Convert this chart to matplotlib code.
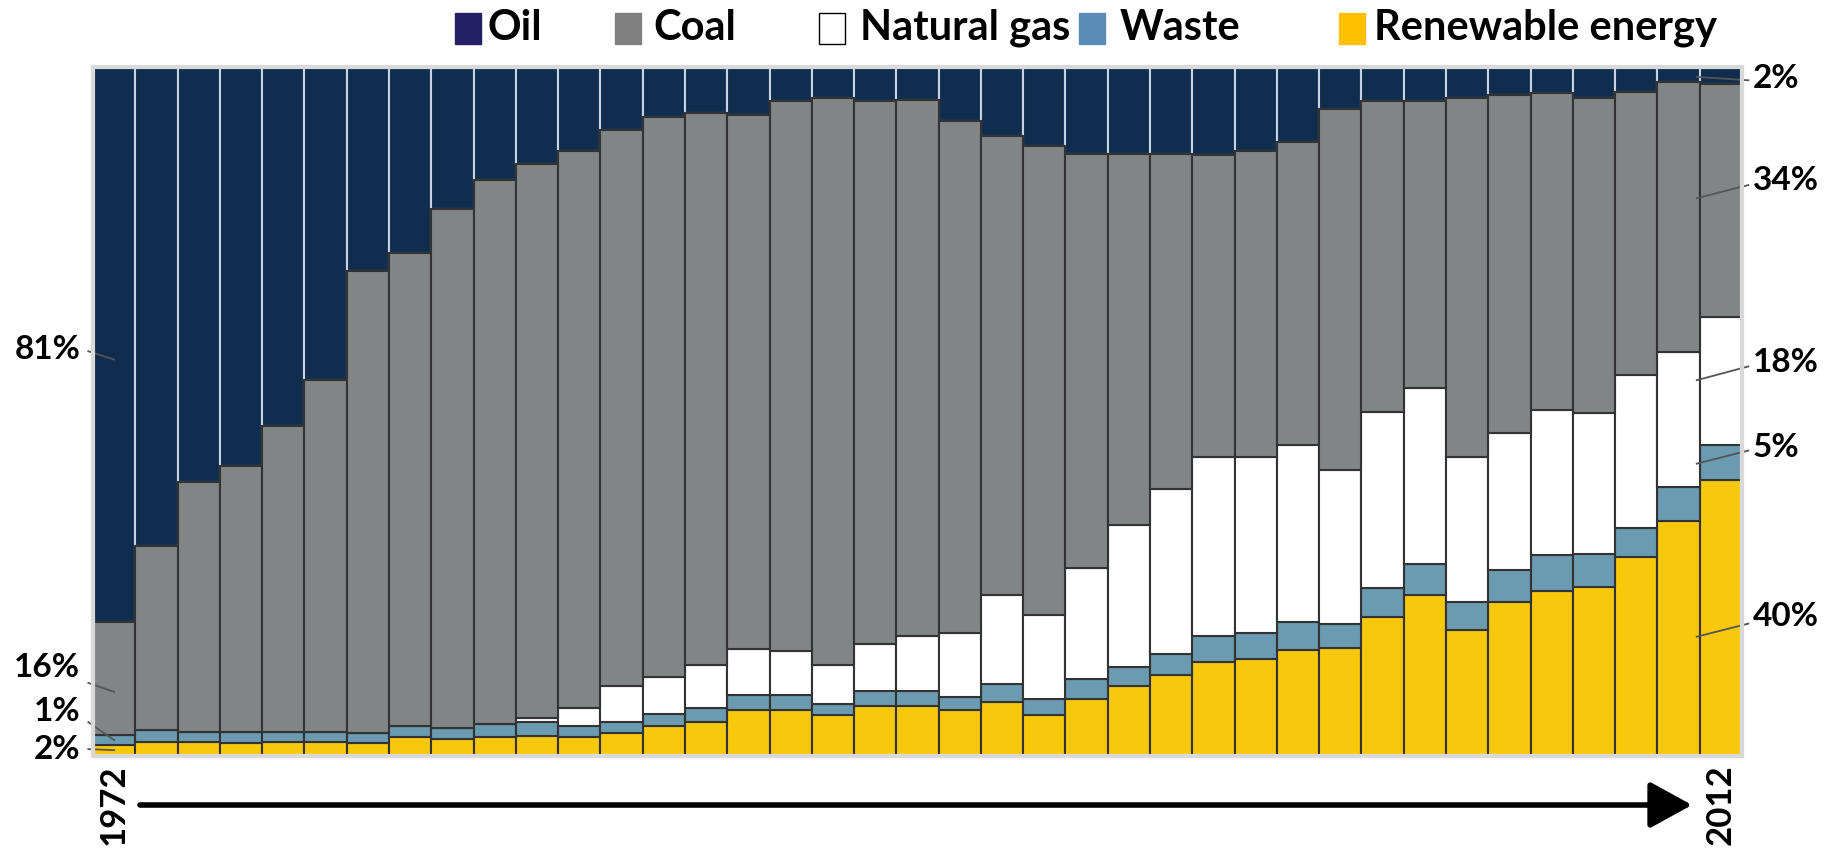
import numpy as np
import matplotlib.pyplot as plt
from matplotlib.patches import Rectangle

# shares in % per bar (1972 ... 2012)
renewable = [1.6, 2.1, 2.1, 1.9, 2.1, 2.1, 1.9, 2.7, 2.4, 2.7,
             2.9, 2.7, 3.3, 4.4, 5.0, 6.7, 6.7, 5.9, 7.2, 7.2,
             6.7, 7.8, 6.0, 8.3, 10.1, 11.8, 13.7, 14.0, 15.4, 15.7,
             20.2, 23.3, 18.3, 22.4, 23.9, 24.5, 28.8, 34.1, 40.0]
waste = [1.4, 1.7, 1.4, 1.6, 1.4, 1.4, 1.4, 1.7, 1.7, 1.9,
         2.0, 1.7, 1.7, 1.7, 2.0, 2.2, 2.1, 1.6, 2.2, 2.2,
         1.9, 2.6, 2.3, 2.9, 2.8, 3.0, 3.7, 3.8, 4.0, 3.4,
         4.2, 4.6, 4.0, 4.6, 5.2, 4.8, 4.2, 4.9, 5.1]
natural_gas = [0.0, 0.0, 0.0, 0.0, 0.0, 0.0, 0.0, 0.0, 0.0, 0.0,
               0.6, 2.5, 5.1, 5.3, 6.2, 6.6, 6.4, 5.7, 6.9, 8.0,
               9.3, 12.9, 12.2, 16.1, 20.6, 23.9, 26.0, 25.6, 25.7, 22.4,
               25.5, 25.4, 21.1, 19.8, 21.1, 20.4, 22.2, 19.6, 18.5]
coal = [16.4, 26.6, 36.2, 38.6, 44.3, 51.1, 67.1, 68.5, 75.3, 79.0,
        80.4, 80.9, 80.7, 81.3, 80.1, 77.5, 79.8, 82.3, 78.7, 77.8,
        74.2, 66.6, 68.0, 60.0, 53.8, 48.6, 43.7, 44.4, 43.9, 52.3,
        45.1, 41.7, 52.1, 49.1, 46.0, 45.8, 41.1, 39.1, 33.8]
oil = [80.6, 69.6, 60.3, 57.9, 52.2, 45.4, 29.6, 27.1, 20.6, 16.4,
       14.1, 12.2, 9.2, 7.3, 6.7, 7.0, 5.0, 4.5, 5.0, 4.8,
       7.9, 10.1, 11.5, 12.7, 12.7, 12.7, 12.9, 12.2, 11.0, 6.2,
       5.0, 5.0, 4.5, 4.1, 3.8, 4.5, 3.7, 2.3, 2.6]

end_years = ['1972', '2012']
left_labels = ['81%', '16%', '1%', '2%']
right_labels = ['2%', '34%', '18%', '5%', '40%']
legend_names = ['Oil', 'Coal', 'Natural gas', 'Waste', 'Renewable energy']
legend_colors = ['#231f63', '#808080', 'white', '#5b8cb8', '#ffc000']

plt.rcParams['font.family'] = ['Lato', 'DejaVu Sans']
plt.rcParams['font.weight'] = 'bold'

W, H = 1829, 848
fig = plt.figure(figsize=(W / 100, H / 100), dpi=100)
ax = fig.add_axes([93 / W, 1 - 756 / H, (1742 - 93) / W, (756 - 66.5) / H])

x = np.arange(len(coal))
r = np.array(renewable)
w = np.array(waste)
g = np.array(natural_gas)
c = np.array(coal)
o = np.array(oil)

edge = '#333333'
# oil first so the dark edges of the coal bars stay on top
ax.bar(x, o, bottom=r + w + g + c, width=1.0, color='#102c4e', edgecolor='#c9d3de', linewidth=1.5)
ax.bar(x, r, width=1.0, color='#f8c80d', edgecolor=edge, linewidth=1.5)
ax.bar(x, w, bottom=r, width=1.0, color='#6a9bb1', edgecolor=edge, linewidth=1.5)
ax.bar(x, g, bottom=r + w, width=1.0, color='white', edgecolor=edge, linewidth=1.5)
ax.bar(x, c, bottom=r + w + g, width=1.0, color='#828586', edgecolor=edge, linewidth=1.5)

ax.set_xlim(-0.5, len(coal) - 0.5)
ax.set_ylim(0, 100)
ax.set_yticks([])
ax.set_xticks([x[0], x[-1]])
ax.set_xticklabels(end_years, rotation=90, fontsize=25, fontweight='bold', va='top')
ax.tick_params(axis='x', length=0, pad=6)
for s in ax.spines.values():
    s.set_color('#d9d9d9')
    s.set_linewidth(3)

# left side call-outs (1972)
left_y = [59.0, 12.9, 6.4, 0.9]
left_lines = [(58.7, 57.5), (10.6, 9.3), (4.9, 2.3), (1.0, 0.85)]
for lab, ty, (y1, y2) in zip(left_labels, left_y, left_lines):
    ax.text(-0.8, ty, lab, ha='right', va='center', fontsize=24, fontweight='bold')
    ax.plot([-0.61, 0.0], [y1, y2], color='#555555', lw=1.3, clip_on=False)

# right side call-outs (2012)
n = len(coal) - 1
right_y = [98.3, 83.4, 57.1, 44.7, 20.3]
right_lines = [(98.5, 98.0), (80.9, 82.8), (54.5, 56.5), (42.4, 44.3), (17.3, 19.2)]
for lab, ty, (y1, y2) in zip(right_labels, right_y, right_lines):
    ax.text(n + 0.75, ty, lab, ha='left', va='center', fontsize=24, fontweight='bold')
    ax.plot([n - 0.57, n + 0.65], [y1, y2], color='#555555', lw=1.3, clip_on=False)

# time arrow under the bars
ax.annotate('', xy=(1692 / W, 1 - 805 / H), xytext=(140 / W, 1 - 805 / H),
            xycoords='figure fraction', textcoords='figure fraction',
            arrowprops=dict(arrowstyle='-|>,head_length=1.0,head_width=0.55',
                            color='black', lw=4, mutation_scale=26,
                            shrinkA=0, shrinkB=0))

# legend row, placed by hand like in the original
swatch_x = [455, 615, 819, 1079, 1339]
text_x = [488, 653, 860, 1120, 1374]
for sx, tx, name, col in zip(swatch_x, text_x, legend_names, legend_colors):
    fig.add_artist(Rectangle((sx / W, 1 - 44 / H), 26 / W, 31 / H, transform=fig.transFigure,
                             facecolor=col, edgecolor='black' if col == 'white' else col, lw=1))
    fig.text(tx / W, 1 - 28 / H, name, ha='left', va='center', fontsize=30, fontweight='bold')

fig.savefig('out.png', dpi=100)
